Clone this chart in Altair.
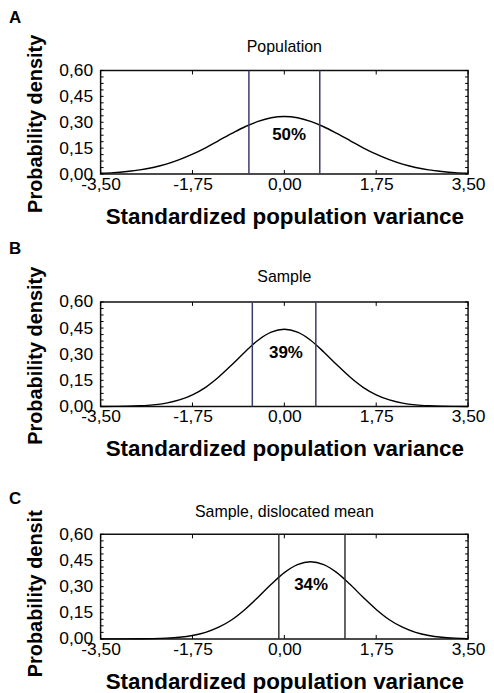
import altair as alt
import pandas as pd

# ---------------- data ----------------
x_grid = [-3.5, -3.25, -3.0, -2.75, -2.5, -2.25, -2.0, -1.75, -1.5, -1.25, -1.0, -0.75,
          -0.5, -0.25, 0.0, 0.25, 0.5, 0.75, 1.0, 1.25, 1.5, 1.75, 2.0, 2.25, 2.5, 2.75,
          3.0, 3.25, 3.5]
population_density = [0.005, 0.0085, 0.015, 0.024, 0.038, 0.057, 0.083, 0.115, 0.152, 0.194,
                      0.235, 0.274, 0.305, 0.326, 0.333, 0.326, 0.305, 0.274, 0.235, 0.194,
                      0.152, 0.115, 0.083, 0.057, 0.038, 0.024, 0.015, 0.0085, 0.005]
sample_density = [0.0002, 0.0007, 0.0017, 0.0042, 0.0094, 0.0195, 0.0375, 0.067, 0.110, 0.169,
                  0.239, 0.313, 0.380, 0.426, 0.443, 0.426, 0.380, 0.313, 0.239, 0.169,
                  0.110, 0.067, 0.0375, 0.0195, 0.0094, 0.0042, 0.0017, 0.0007, 0.0002]
shifted_density = [0.0, 0.0001, 0.0002, 0.0007, 0.0017, 0.0042, 0.0094, 0.0195, 0.0375, 0.067,
                   0.110, 0.169, 0.239, 0.313, 0.380, 0.426, 0.443, 0.426, 0.380, 0.313,
                   0.239, 0.169, 0.110, 0.067, 0.0375, 0.0195, 0.0094, 0.0042, 0.0017]
densities = [population_density, sample_density, shifted_density]

panel_letters = ["A", "B", "C"]
panel_titles = ["Population", "Sample", "Sample, dislocated mean"]
cut_lines = [[-0.675, 0.675], [-0.61, 0.60], [-0.105, 1.155]]
pct_labels = ["50%", "39%", "34%"]
pct_x = [0.09, 0.03, 0.51]
pct_y = [0.228, 0.305, 0.311]

x_ticks = [-3.5, -1.75, 0.0, 1.75, 3.5]
y_ticks = [0.0, 0.15, 0.30, 0.45, 0.60]
y_minor = [0.0, 0.0375, 0.075, 0.1125, 0.15, 0.1875, 0.225, 0.2625, 0.3, 0.3375, 0.375,
           0.4125, 0.45, 0.4875, 0.525, 0.5625, 0.6]
x_title = "Standardized population variance"
y_title = "Probability density"

# ---------------- layout / style ----------------
W = 369
heights = [104, 105, 105]
FONT = "Liberation Sans"
line_colors = ["#3b3b6b", "#3b3b6b", "#333333"]
letter_dy = [-47.6, -48.4, -30.0]
title_dy = [-18.6, -20.0, -17.7]
ytitle_limit = [0, 0, 172]
lab_expr = "replace(replace(format(datum.value, '.2f'), '.', ','), '\u2212', '-')"


def panel(i):
    H = heights[i]
    xs = alt.Scale(domain=[-3.5, 3.5], nice=False, zero=False)
    ys = alt.Scale(domain=[0, 0.6], nice=False)
    x_axis = alt.Axis(
        values=x_ticks, labelExpr=lab_expr, ticks=False, tickSize=0, domain=False,
        grid=False, labelFlush=False, labelOverlap=False, labelFontSize=17.5,
        labelPadding=1.5, title=x_title, titleFontSize=22.5, titleFontWeight="bold",
        titlePadding=12.5)
    y_axis = alt.Axis(
        values=y_ticks, labelExpr=lab_expr, ticks=False, tickSize=0, domain=False,
        grid=False, labelFlush=False, labelOverlap=False, labelFontSize=17.5,
        labelPadding=8, title=None)

    curve = alt.Chart(pd.DataFrame({"x": x_grid, "y": densities[i]})).mark_line(
        color="black", strokeWidth=1.4, interpolate="monotone"
    ).encode(
        x=alt.X("x:Q", scale=xs, axis=x_axis),
        y=alt.Y("y:Q", scale=ys, axis=y_axis),
    )

    cuts = alt.Chart(pd.DataFrame({"c": cut_lines[i]})).mark_rule(
        color=line_colors[i], strokeWidth=1.5
    ).encode(x=alt.X("c:Q", scale=xs, axis=x_axis))

    pct = alt.Chart(pd.DataFrame({"px": [pct_x[i]], "py": [pct_y[i]], "t": [pct_labels[i]]})).mark_text(
        font=FONT, fontSize=17, fontWeight="bold", color="black", baseline="middle"
    ).encode(x=alt.X("px:Q", scale=xs, axis=x_axis), y=alt.Y("py:Q", scale=ys, axis=y_axis),
             text="t:N")

    xt = pd.DataFrame({"t": x_ticks})
    bottom_ticks = alt.Chart(xt).mark_rule(color="black", strokeWidth=1).encode(
        x=alt.X("t:Q", scale=xs, axis=x_axis), y=alt.value(H), y2=alt.value(H - 4))
    top_ticks = alt.Chart(xt).mark_rule(color="black", strokeWidth=1).encode(
        x=alt.X("t:Q", scale=xs, axis=x_axis), y=alt.value(0), y2=alt.value(4))
    yt = pd.DataFrame({"t": y_minor})
    left_ticks = alt.Chart(yt).mark_rule(color="black", strokeWidth=1).encode(
        y=alt.Y("t:Q", scale=ys, axis=y_axis), x=alt.value(0), x2=alt.value(3))
    right_ticks = alt.Chart(yt).mark_rule(color="black", strokeWidth=1).encode(
        y=alt.Y("t:Q", scale=ys, axis=y_axis), x=alt.value(W), x2=alt.value(W - 3))

    letter = alt.Chart(pd.DataFrame({"t": [panel_letters[i]]})).mark_text(
        font=FONT, fontSize=17, fontWeight="bold", color="black", align="left",
        baseline="alphabetic"
    ).encode(x=alt.value(-92), y=alt.value(letter_dy[i]), text="t:N")

    ptitle = alt.Chart(pd.DataFrame({"t": [panel_titles[i]]})).mark_text(
        font=FONT, fontSize=16, color="black", align="center", baseline="alphabetic"
    ).encode(x=alt.value(W / 2), y=alt.value(title_dy[i]), text="t:N")

    ykw = dict(font=FONT, fontSize=20, fontWeight="bold", color="black", align="left",
               baseline="alphabetic", angle=270)
    if ytitle_limit[i]:
        ykw.update(limit=ytitle_limit[i], ellipsis="\u200b")
    ytitle = alt.Chart(pd.DataFrame({"t": [y_title]})).mark_text(**ykw).encode(
        x=alt.value(-59), y=alt.value(H / 2 + 91), text="t:N")

    return alt.layer(curve, cuts, pct, bottom_ticks, top_ticks, left_ticks, right_ticks,
                     letter, ptitle, ytitle).properties(width=W, height=H)


chart = alt.vconcat(*[panel(i) for i in range(3)], spacing=128.4, bounds="flush").properties(
    padding={"left": 0, "top": -1.7, "right": 0, "bottom": 0}
).configure_view(
    stroke="#111111", strokeWidth=1.5
).configure_axis(
    labelFont=FONT, titleFont=FONT, labelColor="black", titleColor="black"
)

chart.save("out.html", embed_options={"renderer": "svg", "actions": False})
